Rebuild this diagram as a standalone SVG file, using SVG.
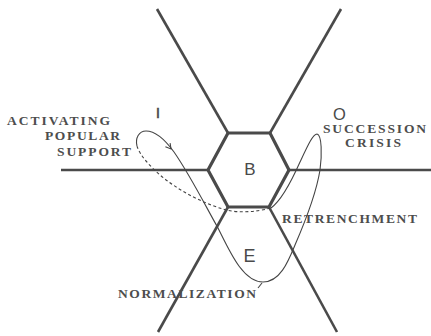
<svg xmlns="http://www.w3.org/2000/svg" width="431" height="336" viewBox="0 0 431 336">
<style>
.frame{fill:none;stroke:#4a4a4a;stroke-width:2.6;stroke-linecap:butt}
.hex{fill:none;stroke:#4a4a4a;stroke-width:3.2;stroke-linejoin:miter}
.path{fill:none;stroke:#444;stroke-width:1.1}
.dash{fill:none;stroke:#444;stroke-width:1.1;stroke-dasharray:3 2.5}
.lbl{font-family:"Liberation Serif","DejaVu Serif",serif;font-weight:bold;font-size:13.5px;fill:#4d4d4d}
.ltr{font-family:"Liberation Sans","DejaVu Sans",sans-serif;fill:#4a4a4a;text-anchor:middle}
</style>
<rect width="431" height="336" fill="#ffffff"/>
<g id="frame">
<line class="frame" x1="228" y1="133" x2="157" y2="9"/>
<line class="frame" x1="270" y1="133" x2="341" y2="9"/>
<line class="frame" x1="289" y1="170" x2="431" y2="170"/>
<line class="frame" x1="208" y1="170" x2="61" y2="170"/>
<line class="frame" x1="228" y1="207" x2="158" y2="332"/>
<line class="frame" x1="269" y1="207" x2="337" y2="332"/>
</g>
<g id="node-B">
<polygon class="hex" points="228,133 270,133 289,170 269,207 228,207 208,170"/>
<text class="ltr" x="250" y="175" font-size="17">B</text>
</g>
<g id="node-I"><text class="ltr" x="158" y="118" font-size="14" stroke="#4a4a4a" stroke-width="0.6">I</text></g>
<g id="node-O"><text class="ltr" x="339.5" y="119.5" font-size="16.5">O</text></g>
<g id="node-E"><text class="ltr" x="249.5" y="261.5" font-size="18">E</text></g>
<g id="connectors">
<path class="path" d="M137,146 C135,138 139,131 146,131 C156,131 166,141 174,152 C190,175 205,205 218,228 C230,252 243,282 263,282 C280,282 288,262 295,245 C305,222 316,195 320,170 C322,155 322,135 317,134 C313,134 308,145 300,162 C292,180 282,200 271,208"/>
<polyline class="path" points="170.1,143.1 171,149 165.4,146.8"/>
<path class="dash" d="M270,208 C258,212 238,213 226,210 C205,204 180,192 160,175 C150,166 140,156 137,146"/>
<line class="path" x1="262" y1="283" x2="258" y2="288"/>
</g>
<g id="labels">
<text class="lbl" x="7" y="125" textLength="103" lengthAdjust="spacing">ACTIVATING</text>
<text class="lbl" x="45" y="140" textLength="75" lengthAdjust="spacing">POPULAR</text>
<text class="lbl" x="57" y="156" textLength="74" lengthAdjust="spacing">SUPPORT</text>
<text class="lbl" x="323" y="133" textLength="103" lengthAdjust="spacing">SUCCESSION</text>
<text class="lbl" x="345" y="147" textLength="56" lengthAdjust="spacing">CRISIS</text>
<text class="lbl" x="282" y="223" textLength="135" lengthAdjust="spacing">RETRENCHMENT</text>
<text class="lbl" x="118" y="298" textLength="138" lengthAdjust="spacing">NORMALIZATION</text>
</g>
</svg>
